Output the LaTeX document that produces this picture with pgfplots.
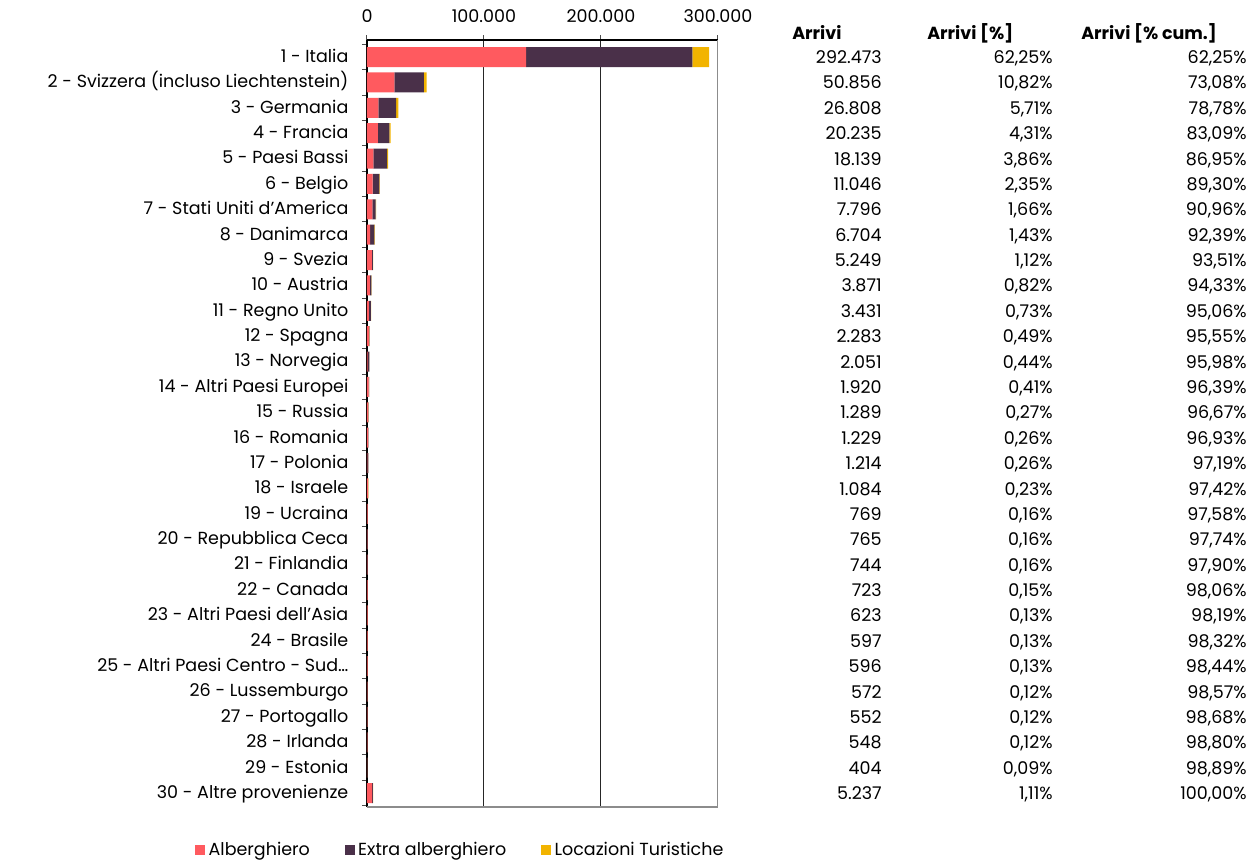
\documentclass[border=0pt]{standalone}
\usepackage{fontspec}
\setmainfont{Poppins}
\usepackage{pgfplots}
\usepackage{pgfplotstable}
\pgfplotsset{compat=1.18}
\definecolor{alb}{HTML}{FF5A5F}
\definecolor{ext}{HTML}{4A3049}
\definecolor{loc}{HTML}{F2B400}
\newcommand{\tfont}{\fontsize{10.5}{12.5}\selectfont}

% arrivi per tipo di struttura (stima dal grafico)
\pgfplotstableread{
idx alb ext loc
0 136000 142000 14473
1 23400 25300 2156
2 9700 15100 2008
3 9400 9700 1135
4 5400 11700 1039
5 4850 5650 546
6 4500 2900 396
7 2700 3600 404
8 4100 1000 149
9 2400 1300 171
10 1500 1800 131
11 1600 500 183
12 600 1350 101
13 1400 400 120
14 1000 200 89
15 900 250 79
16 400 750 64
17 800 230 54
18 600 120 49
19 300 420 45
20 400 300 44
21 500 180 43
22 480 100 43
23 470 90 37
24 450 110 36
25 250 290 32
26 380 140 32
27 370 150 28
28 200 180 24
29 4300 800 137
}\bars

\begin{document}
\begin{tikzpicture}
\begin{scope}[x=0.6pt,y=-0.6pt]
\path[use as bounding box] (0,0) rectangle (1251,860);
\end{scope}
\begin{axis}[
  at={(220.2pt,-484.2pt)}, anchor=south west,
  width=210.6pt, height=460.2pt, scale only axis,
  xbar stacked, bar width=12pt,
  xmin=0, xmax=300000,
  ymin=-0.67, ymax=29.55, y dir=reverse,
  axis x line*=top, axis y line*=left,
  xticklabel pos=top, xtick pos=top, ytick pos=left,
  xtick={0,100000,200000,300000},
  scaled x ticks=false,
  xticklabel={\pgfmathprintnumber[fixed, precision=0, 1000 sep={.}, assume math mode=true]{\tick}},
  xmajorgrids, grid style={black!85, line width=0.6pt},
  tick align=outside, major tick length=3pt,
  ytick={-0.5,0.5,...,29.5},
  y tick label as interval,
  yticklabels={1 - Italia, 2 - Svizzera (incluso Liechtenstein), 3 - Germania, 4 - Francia, 5 - Paesi Bassi, 6 - Belgio, 7 - Stati Uniti d'America, 8 - Danimarca, 9 - Svezia, 10 - Austria, 11 - Regno Unito, 12 - Spagna, 13 - Norvegia, 14 - Altri Paesi Europei, 15 - Russia, 16 - Romania, 17 - Polonia, 18 - Israele, 19 - Ucraina, 20 - Repubblica Ceca, 21 - Finlandia, 22 - Canada, 23 - Altri Paesi dell'Asia, 24 - Brasile, 25 - Altri Paesi Centro - Sud…, 26 - Lussemburgo, 27 - Portogallo, 28 - Irlanda, 29 - Estonia, 30 - Altre provenienze},
  every tick label/.append style={font=\tfont},
  yticklabel style={inner sep=0pt, xshift=-8pt, text height=7.6pt, text depth=2.4pt, yshift=-0.6pt},
  xticklabel style={yshift=4pt},
  axis line style={black, line width=0.7pt},
  tick style={black!70, line width=0.6pt},
  legend columns=3,
  legend style={at={(-0.49,-0.056)}, anchor=west, draw=none, font=\tfont,
    inner sep=0pt, /tikz/every even column/.append style={column sep=19pt}},
  legend image code/.code={\fill[#1] (0pt,-3pt) rectangle (6pt,3pt);},
]
\addplot[fill=alb, draw=none] table[x=alb, y=idx] {\bars};
\addplot[fill=ext, draw=none] table[x=ext, y=idx] {\bars};
\addplot[fill=loc, draw=none] table[x=loc, y=idx] {\bars};
\legend{Alberghiero, Extra alberghiero, Locazioni Turistiche}
\draw[black!45, line width=0.8pt] (rel axis cs:0,0) -- (rel axis cs:1,0) -- (rel axis cs:1,1);
\end{axis}
\begin{scope}[x=0.6pt,y=-0.6pt, font=\tfont]
\node[anchor=mid west, inner sep=0pt, font=\tfont\bfseries] at (792,35) {Arrivi};
\node[anchor=mid west, inner sep=0pt, font=\tfont\bfseries] at (927,35) {Arrivi [\%]};
\node[anchor=mid west, inner sep=0pt, font=\tfont\bfseries] at (1081,35) {Arrivi [\% cum.]};
\foreach \a/\p/\c [count=\i from 0] in {
292473/62.25/62.25, 50856/10.82/73.08, 26808/5.71/78.78, 20235/4.31/83.09,
18139/3.86/86.95, 11046/2.35/89.30, 7796/1.66/90.96, 6704/1.43/92.39,
5249/1.12/93.51, 3871/0.82/94.33, 3431/0.73/95.06, 2283/0.49/95.55,
2051/0.44/95.98, 1920/0.41/96.39, 1289/0.27/96.67, 1229/0.26/96.93,
1214/0.26/97.19, 1084/0.23/97.42, 769/0.16/97.58, 765/0.16/97.74,
744/0.16/97.90, 723/0.15/98.06, 623/0.13/98.19, 597/0.13/98.32,
596/0.13/98.44, 572/0.12/98.57, 552/0.12/98.68, 548/0.12/98.80,
404/0.09/98.89, 5237/1.11/100.00} {
  \node[anchor=mid east, inner sep=0pt] at (882,{59+\i*25.38})
    {\pgfmathprintnumber[fixed, precision=0, 1000 sep={.}, assume math mode=true]{\a}};
  \node[anchor=mid east, inner sep=0pt] at (1053,{59+\i*25.38})
    {\pgfmathprintnumber[fixed, fixed zerofill, precision=2, use comma, assume math mode=true]{\p}\%};
  \node[anchor=mid east, inner sep=0pt] at (1247,{59+\i*25.38})
    {\pgfmathprintnumber[fixed, fixed zerofill, precision=2, use comma, assume math mode=true]{\c}\%};
}
\end{scope}
\end{tikzpicture}
\end{document}
